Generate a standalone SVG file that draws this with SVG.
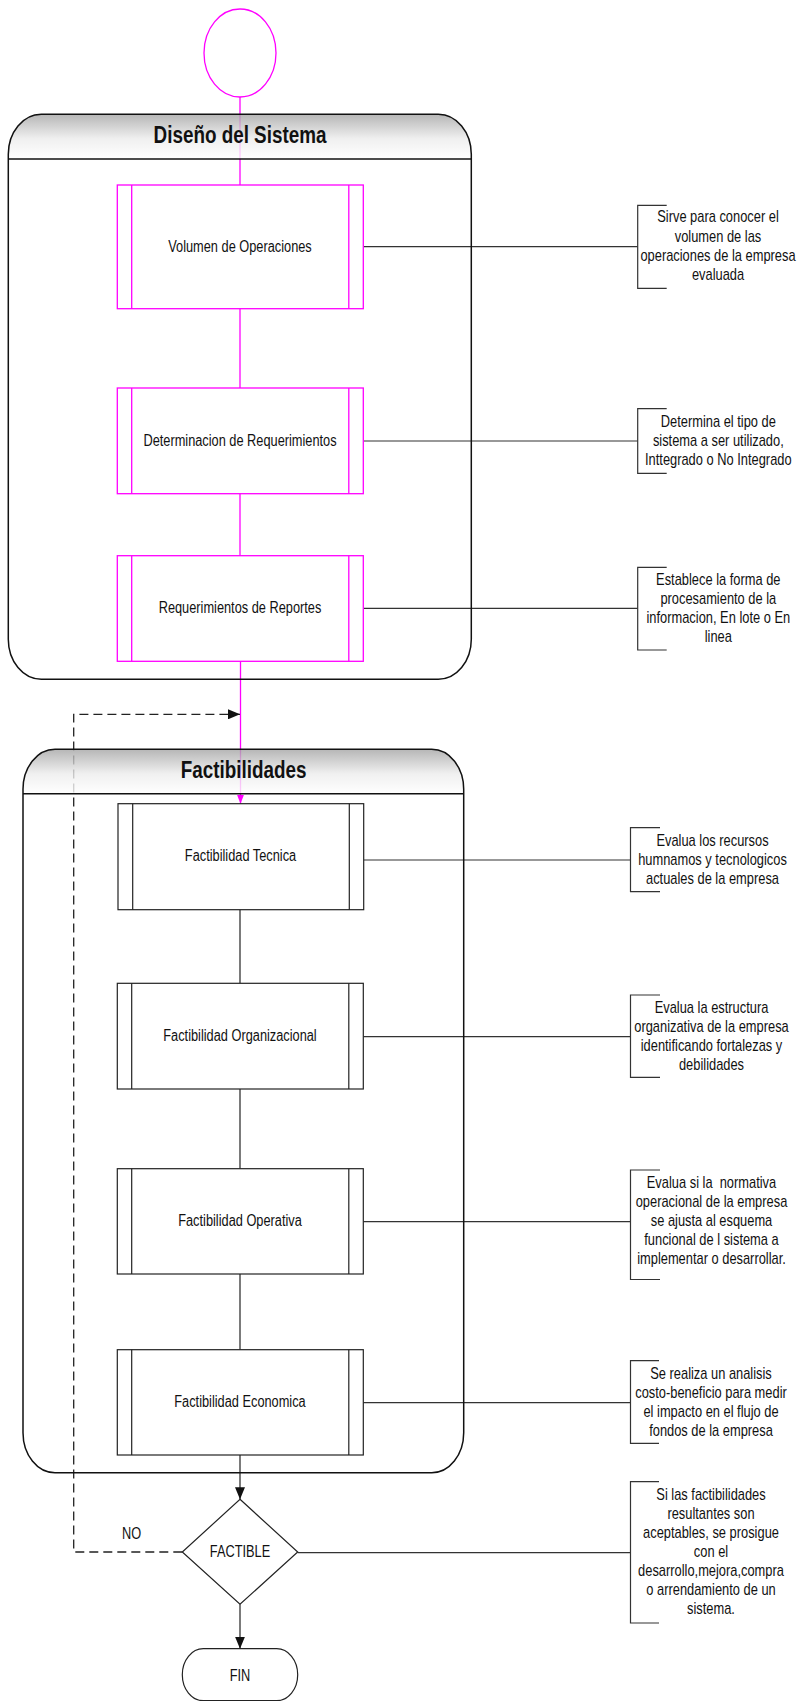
<svg xmlns="http://www.w3.org/2000/svg" width="799" height="1701" viewBox="0 0 799 1701">
<style>
.t{font-family:"Liberation Sans",Arial,sans-serif;font-size:15.6px;fill:#111;text-anchor:middle}
.a{font-family:"Liberation Sans",Arial,sans-serif;font-size:15.7px;fill:#111;text-anchor:middle}
.h{font-family:"Liberation Sans",Arial,sans-serif;font-size:23px;font-weight:bold;fill:#111;text-anchor:middle}
.mag{fill:#fff;stroke:#ff00ff;stroke-width:1.3}
.magl{fill:none;stroke:#ff00ff;stroke-width:1.3}
.blk{fill:#fff;stroke:#222;stroke-width:1.2}
.blkl{fill:none;stroke:#222;stroke-width:1.2}
.ln{fill:none;stroke:#333;stroke-width:1.2}
.dash{fill:none;stroke:#222;stroke-width:1.3;stroke-dasharray:9 5}
.cont{fill:none;stroke:#111;stroke-width:1.5}
.hdr{fill:url(#hg);fill-opacity:0.8}
</style>
<defs>
<linearGradient id="hg" x1="0" y1="0" x2="0" y2="1">
<stop offset="0" stop-color="#a4a4a4"/>
<stop offset="0.55" stop-color="#ececec"/>
<stop offset="1" stop-color="#ffffff"/>
</linearGradient>
<marker id="arr" markerUnits="userSpaceOnUse" markerWidth="12" markerHeight="10" refX="12" refY="5" orient="auto">
<path d="M0,0 L12,5 L0,10 z" fill="#111"/>
</marker>
<marker id="arrm" markerUnits="userSpaceOnUse" markerWidth="9" markerHeight="7" refX="9" refY="3.5" orient="auto">
<path d="M0,0 L9,3.5 L0,7 z" fill="#ff00ff"/>
</marker>
</defs>

<g id="connectors">
<line class="magl" x1="240" y1="97" x2="240" y2="185"/>
<line class="magl" x1="240" y1="308.7" x2="240" y2="388"/>
<line class="magl" x1="240" y1="493.7" x2="240" y2="555.7"/>
<line class="magl" x1="240.5" y1="661.3" x2="240.5" y2="803.7" marker-end="url(#arrm)"/>
<line class="blkl" x1="240" y1="909.7" x2="240" y2="983.3"/>
<line class="blkl" x1="240" y1="1089" x2="240" y2="1168.7"/>
<line class="blkl" x1="240" y1="1274" x2="240" y2="1349.7"/>
<line class="blkl" x1="240" y1="1455" x2="240" y2="1499.3" marker-end="url(#arr)"/>
<line class="blkl" x1="240" y1="1604.3" x2="240" y2="1648.7" marker-end="url(#arr)"/>
<path class="dash" d="M182.3,1552 H73.7 V714.3 H240" marker-end="url(#arr)"/>
<line class="ln" x1="363.3" y1="246.7" x2="637.7" y2="246.7"/>
<line class="ln" x1="363.3" y1="441" x2="637.7" y2="441"/>
<line class="ln" x1="363.3" y1="608.3" x2="637.7" y2="608.3"/>
<line class="ln" x1="363.7" y1="860" x2="630.5" y2="860"/>
<line class="ln" x1="363.3" y1="1036.7" x2="630.5" y2="1036.7"/>
<line class="ln" x1="363.3" y1="1221.7" x2="630.5" y2="1221.7"/>
<line class="ln" x1="363.3" y1="1402.7" x2="630.5" y2="1402.7"/>
<line class="ln" x1="297.7" y1="1552.7" x2="630.5" y2="1552.7"/>
<text class="t" transform="matrix(0.82 0 0 1 131.7 0)" y="1539.3">NO</text>
</g>

<g id="start">
<ellipse cx="240" cy="53" rx="36" ry="44" fill="#fff" stroke="#ff00ff" stroke-width="1.3"/>
</g>

<g id="container-diseno">
<path class="hdr" d="M8.3,159 V154.3 A33,40 0 0 1 41.3,114.3 H438.3 A33,40 0 0 1 471.3,154.3 V159 Z"/>
<rect class="cont" x="8.3" y="114.3" width="463" height="565" rx="33" ry="40"/>
<line class="cont" x1="8.3" y1="159" x2="471.3" y2="159"/>
<text class="h" transform="matrix(0.82 0 0 1 240 0)" y="143.3">Diseño del Sistema</text>
</g>

<g id="container-factibilidades">
<path class="hdr" d="M23,793.7 V789.3 A32,40 0 0 1 55,749.3 H431.7 A32,40 0 0 1 463.7,789.3 V793.7 Z"/>
<rect class="cont" x="23" y="749.3" width="440.7" height="723.4" rx="32" ry="40"/>
<line class="cont" x1="23" y1="793.7" x2="463.7" y2="793.7"/>
<text class="h" transform="matrix(0.82 0 0 1 243.7 0)" y="778.3">Factibilidades</text>
</g>

<g id="volumen">
<rect class="mag" x="117.3" y="185" width="246" height="123.7"/>
<line class="magl" x1="131.7" y1="185" x2="131.7" y2="308.7"/>
<line class="magl" x1="348.8" y1="185" x2="348.8" y2="308.7"/>
<text class="t" transform="matrix(0.82 0 0 1 240 0)" y="252.5">Volumen de Operaciones</text>
</g>

<g id="determinacion">
<rect class="mag" x="117.3" y="388" width="246" height="105.7"/>
<line class="magl" x1="131.7" y1="388" x2="131.7" y2="493.7"/>
<line class="magl" x1="348.8" y1="388" x2="348.8" y2="493.7"/>
<text class="t" transform="matrix(0.82 0 0 1 240 0)" y="446.3">Determinacion de Requerimientos</text>
</g>

<g id="reportes">
<rect class="mag" x="117.3" y="555.7" width="246" height="105.6"/>
<line class="magl" x1="131.7" y1="555.7" x2="131.7" y2="661.3"/>
<line class="magl" x1="348.8" y1="555.7" x2="348.8" y2="661.3"/>
<text class="t" transform="matrix(0.82 0 0 1 240 0)" y="613.3">Requerimientos de Reportes</text>
</g>

<g id="tecnica">
<rect class="blk" x="118" y="803.7" width="245.7" height="106"/>
<line class="blkl" x1="132.7" y1="803.7" x2="132.7" y2="909.7"/>
<line class="blkl" x1="349.3" y1="803.7" x2="349.3" y2="909.7"/>
<text class="t" transform="matrix(0.82 0 0 1 240.5 0)" y="860.7">Factibilidad Tecnica</text>
</g>

<g id="organizacional">
<rect class="blk" x="117.3" y="983.3" width="246" height="105.7"/>
<line class="blkl" x1="131.7" y1="983.3" x2="131.7" y2="1089"/>
<line class="blkl" x1="348.8" y1="983.3" x2="348.8" y2="1089"/>
<text class="t" transform="matrix(0.82 0 0 1 240 0)" y="1040.7">Factibilidad Organizacional</text>
</g>

<g id="operativa">
<rect class="blk" x="117.3" y="1168.7" width="246" height="105.3"/>
<line class="blkl" x1="131.7" y1="1168.7" x2="131.7" y2="1274"/>
<line class="blkl" x1="348.8" y1="1168.7" x2="348.8" y2="1274"/>
<text class="t" transform="matrix(0.82 0 0 1 240 0)" y="1226">Factibilidad Operativa</text>
</g>

<g id="economica">
<rect class="blk" x="117.3" y="1349.7" width="246" height="105.3"/>
<line class="blkl" x1="131.7" y1="1349.7" x2="131.7" y2="1455"/>
<line class="blkl" x1="348.8" y1="1349.7" x2="348.8" y2="1455"/>
<text class="t" transform="matrix(0.82 0 0 1 240 0)" y="1406.7">Factibilidad Economica</text>
</g>

<g id="factible">
<polygon class="blk" points="240,1499.3 297.7,1552 240,1604.3 182.3,1552"/>
<text class="t" transform="matrix(0.82 0 0 1 240 0)" y="1556.7">FACTIBLE</text>
</g>

<g id="fin">
<rect class="blk" x="182.3" y="1648.7" width="115.4" height="52" rx="21" ry="26"/>
<text class="t" transform="matrix(0.82 0 0 1 240 0)" y="1680.7">FIN</text>
</g>

<g id="nota-volumen">
<path class="ln" d="M666.7,205.3 H637.7 V288.3 H666.7"/>
<text class="a" transform="matrix(0.82 0 0 1 718 0)" y="222.5"><tspan x="0">Sirve para conocer el</tspan><tspan x="0" dy="19.2">volumen de las</tspan><tspan x="0" dy="19.2">operaciones de la empresa</tspan><tspan x="0" dy="19.2">evaluada</tspan></text>
</g>

<g id="nota-determinacion">
<path class="ln" d="M666.7,408.7 H637.7 V473.3 H666.7"/>
<text class="a" transform="matrix(0.82 0 0 1 718.3 0)" y="426.7"><tspan x="0">Determina el tipo de</tspan><tspan x="0" dy="19.2">sistema a ser utilizado,</tspan><tspan x="0" dy="19.2">Inttegrado o No Integrado</tspan></text>
</g>

<g id="nota-reportes">
<path class="ln" d="M666.7,567.3 H637.7 V650 H666.7"/>
<text class="a" transform="matrix(0.82 0 0 1 718.3 0)" y="584.7"><tspan x="0">Establece la forma de</tspan><tspan x="0" dy="19">procesamiento de la</tspan><tspan x="0" dy="19">informacion, En lote o En</tspan><tspan x="0" dy="19">linea</tspan></text>
</g>

<g id="nota-tecnica">
<path class="ln" d="M660,827.7 H630.5 V891.7 H660"/>
<text class="a" transform="matrix(0.82 0 0 1 712.5 0)" y="846"><tspan x="0">Evalua los recursos</tspan><tspan x="0" dy="19">humnamos y tecnologicos</tspan><tspan x="0" dy="19">actuales de la empresa</tspan></text>
</g>

<g id="nota-organizacional">
<path class="ln" d="M660,995 H630.5 V1077.3 H660"/>
<text class="a" transform="matrix(0.82 0 0 1 711.5 0)" y="1012.7"><tspan x="0">Evalua la estructura</tspan><tspan x="0" dy="19">organizativa de la empresa</tspan><tspan x="0" dy="19">identificando fortalezas y</tspan><tspan x="0" dy="19">debilidades</tspan></text>
</g>

<g id="nota-operativa">
<path class="ln" d="M660,1170 H630.5 V1279.5 H660"/>
<text class="a" transform="matrix(0.82 0 0 1 711.5 0)" y="1188.3" xml:space="preserve"><tspan x="0">Evalua si la  normativa</tspan><tspan x="0" dy="19">operacional de la empresa</tspan><tspan x="0" dy="19">se ajusta al esquema</tspan><tspan x="0" dy="19">funcional de l sistema a</tspan><tspan x="0" dy="19">implementar o desarrollar.</tspan></text>
</g>

<g id="nota-economica">
<path class="ln" d="M659,1360.7 H630.5 V1443.3 H659"/>
<text class="a" transform="matrix(0.82 0 0 1 711 0)" y="1379"><tspan x="0">Se realiza un analisis</tspan><tspan x="0" dy="19">costo-beneficio para medir</tspan><tspan x="0" dy="19">el impacto en el flujo de</tspan><tspan x="0" dy="19">fondos de la empresa</tspan></text>
</g>

<g id="nota-factible">
<path class="ln" d="M659,1481.7 H630.5 V1623 H659"/>
<text class="a" transform="matrix(0.82 0 0 1 711 0)" y="1500"><tspan x="0">Si las factibilidades</tspan><tspan x="0" dy="19">resultantes son</tspan><tspan x="0" dy="19">aceptables, se prosigue</tspan><tspan x="0" dy="19">con el</tspan><tspan x="0" dy="19">desarrollo,mejora,compra</tspan><tspan x="0" dy="19">o arrendamiento de un</tspan><tspan x="0" dy="19">sistema.</tspan></text>
</g>
</svg>
